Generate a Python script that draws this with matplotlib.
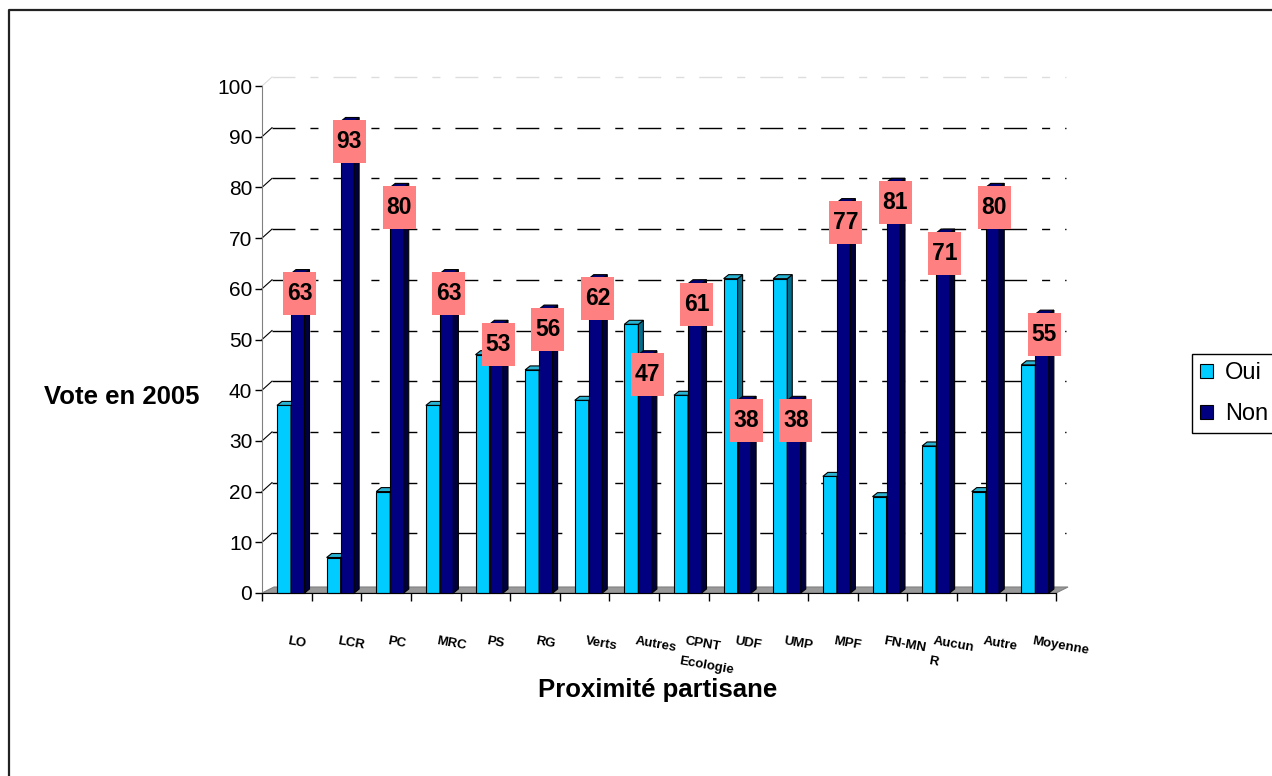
import math

import matplotlib
matplotlib.use("Agg")
import matplotlib.pyplot as plt
from matplotlib.lines import Line2D
from matplotlib.patches import Patch, Polygon, Rectangle

plt.rcParams["font.family"] = ["Liberation Sans", "DejaVu Sans"]

categories = ["LO", "LCR", "PC", "MRC", "PS", "RG", "Verts", "Autres Ecologie",
              "CPNT", "UDF", "UMP", "MPF", "FN-MNR", "Aucun", "Autre", "Moyenne"]
oui = [37, 7, 20, 37, 47, 44, 38, 53, 39, 62, 62, 23, 19, 29, 20, 45]
non = [63, 93, 80, 63, 53, 56, 62, 47, 61, 38, 38, 77, 81, 71, 80, 55]
yticks = list(range(0, 101, 10))
series_names = ["Oui", "Non"]

# the category labels wrap oddly in the original
wrapped = {"Autres Ecologie": ("Autres", "Ecologie"), "FN-MNR": ("FN-MN", "R")}

W, H = 1272, 776
fig = plt.figure(figsize=(W / 100, H / 100), dpi=100)

# plot area in pixels: x 262..1056, y 86..593
ax = fig.add_axes([262 / W, (H - 593) / H, 794 / W, 507 / H])
n = len(categories)
ax.set_xlim(0, n)
ax.set_ylim(0, 100)
sx = n / 794.0   # data units per pixel
sy = 100 / 507.0

for s in ["top", "right"]:
    ax.spines[s].set_visible(False)
ax.spines["left"].set_color("#808080")
ax.spines["bottom"].set_color("black")
ax.set_xticks(range(n + 1))
ax.set_xticklabels([])
ax.set_yticks(yticks)
ax.tick_params(axis="x", direction="out", length=6, width=1, color="black")
ax.tick_params(axis="y", direction="out", length=5, width=1, color="black",
               labelsize=15, pad=2)

# back wall grid (offset for the 3D look)
wdx, wdy = 10 * sx, 9 * sy
for v in yticks[1:]:
    col = "#dddddd" if v == 100 else "black"
    ax.plot([wdx, n + wdx], [v + wdy, v + wdy], color=col, lw=1.0,
            dashes=(16.5, 10.8, 5.8, 10.8), zorder=0.5, clip_on=False)
    ax.plot([0, wdx], [v, v + wdy], color=col, lw=0.8, zorder=0.5, clip_on=False)

# floor
fdx, fdy = 12 * sx, 6 * sy
ax.add_patch(Polygon([(0, 0), (n, 0), (n + fdx, fdy), (fdx, fdy)], closed=True,
                     facecolor="#999999", edgecolor="#808080", lw=0.8, zorder=1,
                     clip_on=False))

bdx, bdy = 5 * sx, 4 * sy


def bar3d(x0, w, h, front, side, top, z):
    ax.add_patch(Rectangle((x0, 0), w, h, facecolor=front, edgecolor="black",
                           lw=0.8, zorder=z, clip_on=False))
    ax.add_patch(Polygon([(x0 + w, 0), (x0 + w + bdx, bdy), (x0 + w + bdx, h + bdy),
                          (x0 + w, h)], closed=True, facecolor=side,
                         edgecolor="black", lw=0.8, zorder=z, clip_on=False))
    ax.add_patch(Polygon([(x0, h), (x0 + bdx, h + bdy), (x0 + w + bdx, h + bdy),
                          (x0 + w, h)], closed=True, facecolor=top,
                         edgecolor="black", lw=0.8, zorder=z, clip_on=False))


oui_x, oui_w = 15 * sx, 14 * sx
non_x, non_w = 29 * sx, 13.5 * sx
for i in range(n):
    bar3d(i + oui_x, oui_w, oui[i], "#00CCFF", "#006E8C", "#2AB4D4", 2 + i * 0.01)
    bar3d(i + non_x, non_w, non[i], "#000080", "#00003C", "#000070", 3 + i * 0.01)

# value labels on the Non bars
bw, bh = 33 * sx, 43 * sy
for i in range(n):
    cx = i + non_x + non_w / 2 + 2 * sx
    cy = non[i] - 4.0
    ax.add_patch(Rectangle((cx - bw / 2, cy - bh / 2), bw, bh, facecolor="#FF8080",
                           edgecolor="none", zorder=10, clip_on=False))
    ax.text(cx, cy, str(non[i]), ha="center", va="center", fontsize=16.5,
            fontweight="bold", zorder=11)

# category labels, tilted
renderer = fig.canvas.get_renderer()
rot = -10
lab_fs = 9.5
ly = -42 / 507.0
ux, uy = math.cos(math.radians(rot)), math.sin(math.radians(rot))
dxp, dyp = math.sin(math.radians(rot)), -math.cos(math.radians(rot))
line_h = 12
for i, name in enumerate(categories):
    lines = wrapped.get(name, (name,))
    ax.text(i + 27 * sx, ly, lines[0], transform=ax.get_xaxis_transform(),
            rotation=rot, rotation_mode="anchor", ha="left", va="top",
            fontsize=lab_fs, fontweight="bold")
    if len(lines) > 1:
        tmp = ax.text(0, 0, lines[0], fontsize=lab_fs, fontweight="bold")
        wpx = tmp.get_window_extent(renderer).width + 5
        tmp.remove()
        ox = (wpx * ux + line_h * dxp) * 72 / 100
        oy = (wpx * uy + line_h * dyp) * 72 / 100
        ax.annotate(lines[1], xy=(i + 27 * sx, ly), xycoords=ax.get_xaxis_transform(),
                    xytext=(ox, oy), textcoords="offset points",
                    rotation=rot, rotation_mode="anchor", ha="left", va="top",
                    fontsize=lab_fs, fontweight="bold", annotation_clip=False)

fig.text(122 / W, 1 - 397 / H, "Vote en 2005", ha="center", va="center",
         fontsize=18.5, fontweight="bold")
fig.text(658 / W, 1 - 690 / H, "Proximité partisane", ha="center", va="center",
         fontsize=18.5, fontweight="bold")

handles = [Patch(facecolor="#00CCFF", edgecolor="black", lw=0.8),
           Patch(facecolor="#000080", edgecolor="black", lw=0.8)]
leg = fig.legend(handles, series_names, loc="upper left",
                 bbox_to_anchor=(1192 / W, 1 - 354 / H), fontsize=17,
                 frameon=True, fancybox=False, shadow=False, framealpha=1,
                 handlelength=0.55, handleheight=0.55, handletextpad=0.5,
                 borderpad=0.35, labelspacing=0.8, borderaxespad=0)
leg.get_frame().set_edgecolor("black")
leg.get_frame().set_linewidth(1.0)

# outer chart frame (only top and left edges fall inside the picture)
fig.add_artist(Line2D([9 / W, 9 / W, 1], [0, 1 - 10 / H, 1 - 10 / H],
                      transform=fig.transFigure, color="#222222", lw=1.6))

fig.savefig("out.png", dpi=100)
